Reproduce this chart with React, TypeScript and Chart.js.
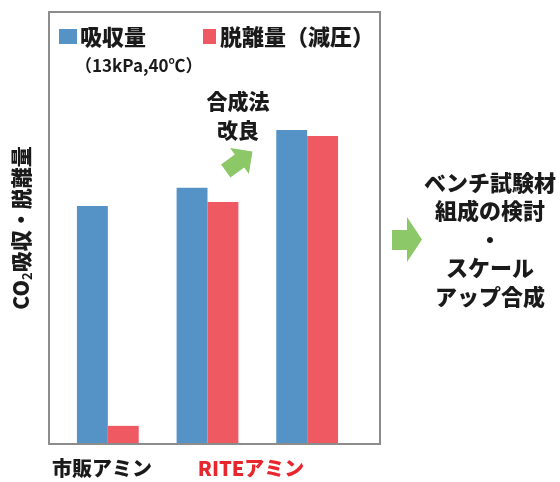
import React, { useEffect, useRef } from "react";
import { Chart, registerables } from "chart.js";

Chart.register(...registerables);

const categories = ["市販アミン", "RITEアミン（旧）", "RITEアミン（新）"];
const absorption = [55.1, 59.3, 72.7];
const desorption = [4.2, 56.0, 71.3];
const seriesNames = ["吸収量", "脱離量（減圧）"];
const conditionNote = "（13kPa,40℃）";
const xLabels = ["市販アミン", "RITEアミン"];
const improveNote = ["合成法", "改良"];
const nextSteps = ["ベンチ試験材", "組成の検討", "・", "スケール", "アップ合成"];

const BLUE = "#5593c7";
const RED = "#ef5a62";
const GREEN = "#8cc868";
const TEXT = "#1a1a1a";
const FONT = "'Noto Sans CJK JP', 'Noto Sans', sans-serif";

const decorPlugin = {
  id: "decor",
  afterDraw(chart: any) {
    const ctx = chart.ctx as CanvasRenderingContext2D;
    ctx.save();
    // frame
    ctx.strokeStyle = "#8c8c8c";
    ctx.lineWidth = 2;
    ctx.strokeRect(49, 12, 331, 432);

    // legend
    ctx.fillStyle = BLUE;
    ctx.fillRect(59, 29, 18, 15);
    ctx.fillStyle = RED;
    ctx.fillRect(203, 29, 13, 15);
    ctx.fillStyle = TEXT;
    ctx.textBaseline = "middle";
    ctx.textAlign = "left";
    ctx.font = `900 22px ${FONT}`;
    ctx.fillText(seriesNames[0], 80, 37);
    ctx.fillText(seriesNames[1], 220, 37);
    ctx.font = `bold 17px ${FONT}`;
    ctx.fillText(conditionNote, 75, 66);

    // improvement note
    ctx.textAlign = "center";
    ctx.font = `900 21px ${FONT}`;
    ctx.fillText(improveNote[0], 238, 101);
    ctx.fillText(improveNote[1], 238, 130);

    // diagonal arrow
    ctx.save();
    ctx.translate(239.5, 161);
    ctx.rotate((-36 * Math.PI) / 180);
    ctx.fillStyle = GREEN;
    ctx.beginPath();
    ctx.moveTo(-17, -8);
    ctx.lineTo(0, -8);
    ctx.lineTo(0, -16);
    ctx.lineTo(16, 0);
    ctx.lineTo(0, 16);
    ctx.lineTo(0, 8);
    ctx.lineTo(-17, 8);
    ctx.closePath();
    ctx.fill();
    ctx.restore();

    // right arrow
    ctx.fillStyle = GREEN;
    ctx.beginPath();
    ctx.moveTo(392, 230);
    ctx.lineTo(407, 230);
    ctx.lineTo(407, 217);
    ctx.lineTo(422, 239.5);
    ctx.lineTo(407, 262);
    ctx.lineTo(407, 250);
    ctx.lineTo(392, 250);
    ctx.closePath();
    ctx.fill();

    // next steps text
    ctx.fillStyle = TEXT;
    ctx.font = `900 22px ${FONT}`;
    const ys = [183, 211, 240, 268, 297];
    nextSteps.forEach((t, i) => ctx.fillText(t, 490, ys[i]));

    // x labels
    ctx.font = `900 20px ${FONT}`;
    ctx.fillStyle = TEXT;
    ctx.fillText(xLabels[0], 102, 468);
    ctx.fillStyle = "#e8262e";
    ctx.fillText(xLabels[1], 251, 468);

    // y title
    ctx.save();
    ctx.translate(21, 228);
    ctx.rotate(-Math.PI / 2);
    ctx.fillStyle = TEXT;
    ctx.textAlign = "left";
    const big = `900 21px ${FONT}`;
    const small = `bold 13px ${FONT}`;
    ctx.font = big;
    const w1 = ctx.measureText("CO").width;
    const w3 = ctx.measureText("吸収・脱離量").width;
    ctx.font = small;
    const w2 = ctx.measureText("2").width;
    const total = w1 + w2 + w3;
    let x = -total / 2;
    ctx.font = big;
    ctx.fillText("CO", x, 0);
    x += w1;
    ctx.font = small;
    ctx.fillText("2", x, 6);
    x += w2;
    ctx.font = big;
    ctx.fillText("吸収・脱離量", x, 0);
    ctx.restore();

    ctx.restore();
  },
};

export default function App() {
  const ref = useRef<HTMLCanvasElement>(null);
  useEffect(() => {
    if (!ref.current) return;
    const chart = new Chart(ref.current, {
      type: "bar",
      data: {
        labels: categories,
        datasets: [
          { label: seriesNames[0], data: absorption, backgroundColor: BLUE },
          { label: seriesNames[1], data: desorption, backgroundColor: RED },
        ],
      },
      options: {
        responsive: false,
        animation: false,
        devicePixelRatio: 1,
        layout: { padding: { left: 58, right: 203, top: 12, bottom: 38 } },
        datasets: { bar: { categoryPercentage: 0.62, barPercentage: 1 } },
        plugins: { legend: { display: false }, tooltip: { enabled: false } },
        scales: {
          x: { display: false },
          y: { display: false, min: 0, max: 100 },
        },
      },
      plugins: [decorPlugin],
    });
    return () => chart.destroy();
  }, []);
  return (
    <div style={{ position: "absolute", left: 0, top: 0, width: 560, height: 482, background: "#fff" }}>
      <canvas ref={ref} width={560} height={482} />
    </div>
  );
}
